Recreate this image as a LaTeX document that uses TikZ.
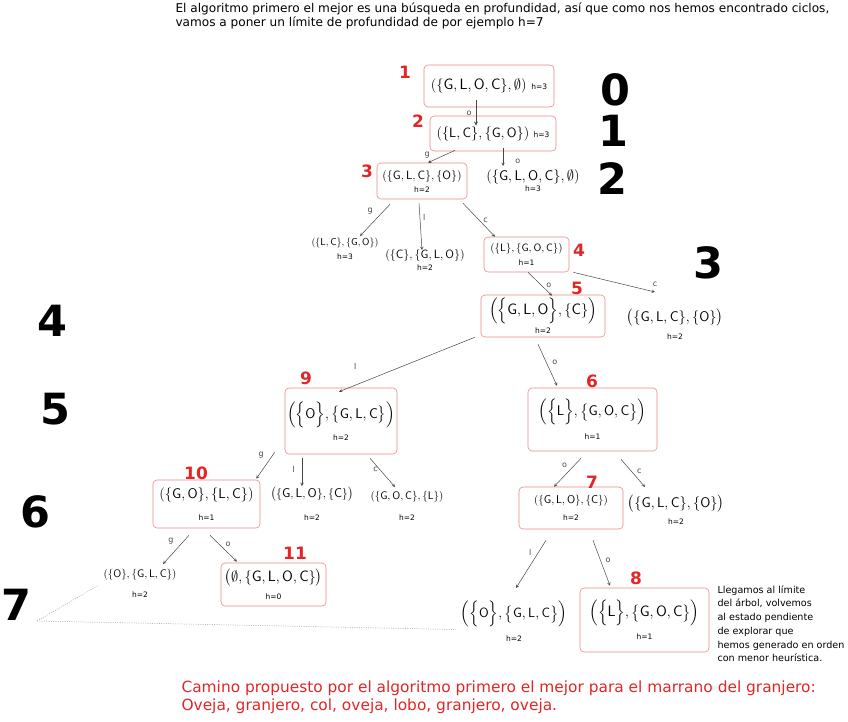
\documentclass[tikz,border=0pt]{standalone}
\usepackage{amsmath}
\usepackage{fontspec}
\setmainfont{DejaVu Sans}
\definecolor{rojo}{RGB}{226,38,38}
\definecolor{rosa}{RGB}{236,135,135}
\definecolor{trazo}{RGB}{70,70,70}
\newcommand{\conj}[1]{\{\mathsf{#1}\}}
\newcommand{\Conj}[1]{\Bigl\{\mathsf{#1}\Bigr\}}
\newcommand{\hh}[1]{{\fontsize{7.5}{8}\selectfont h=#1}}
\tikzset{
    estado/.style={align=center, inner sep=1pt, font=\normalsize},
    letra/.style={font=\fontsize{#1}{#1}\selectfont},
    caja/.style={estado, draw=rosa, rounded corners=4pt, line width=0.6pt},
    paso/.style={text=rojo, font=\fontsize{17}{17}\selectfont\bfseries},
    nivel/.style={font=\fontsize{43}{43}\selectfont\bfseries},
    arista/.style={->, >=stealth, trazo, line width=0.5pt},
    accion/.style={font=\footnotesize, text=trazo, inner sep=1pt},
    limite/.style={gray!75, dash pattern=on 1pt off 1.3pt, line width=0.5pt}
}
\begin{document}
\begin{tikzpicture}[x=1pt, y=-1pt]
    \useasboundingbox (0,0) rectangle (848,721);

    \node[anchor=north west, align=left, font=\fontsize{12.1}{14}\selectfont] (intro) at (172,-0.5)
        {El algoritmo primero el mejor es una búsqueda en profundidad, así que como nos hemos encontrado ciclos,\\
         vamos a poner un límite de profundidad de por ejemplo h=7};

    % niveles del arbol
    \node[nivel] (l0) at (615,90) {0};
    \node[nivel] (l1) at (613,131) {1};
    \node[nivel] (l2) at (612,179) {2};
    \node[nivel] (l3) at (708,263) {3};
    \node[nivel] (l4) at (52,321) {4};
    \node[nivel] (l5) at (55,409) {5};
    \node[nivel] (l6) at (35,512) {6};
    \node[nivel] (l7) at (16,605) {7};

    % estados
    \node[caja, letra=15, minimum width=130pt, minimum height=42pt] (n1) at (489,86)
        {$(\conj{G,L,O,C},\emptyset)$\ \hh{3}};
    \node[caja, letra=13.5, minimum width=126pt, minimum height=35pt] (n2) at (493,133.5)
        {$(\conj{L,C},\conj{G,O})$\ \hh{3}};
    \node[caja, letra=12, minimum width=90pt, minimum height=36pt] (n3) at (422,181)
        {$(\conj{G,L,C},\conj{O})$\\[1pt]\hh{2}};
    \node[estado, letra=14, anchor=north] (n3b) at (533,168)
        {$(\conj{G,L,O,C},\emptyset)$\\[-3pt]\hh{3}};
    \node[estado, letra=10, anchor=north] (n4a) at (345,237)
        {$(\conj{L,C},\conj{G,O})$\\[4pt]\hh{3}};
    \node[estado, letra=12, anchor=north] (n4b) at (425,248)
        {$(\conj{C},\conj{G,L,O})$\\[0pt]\hh{2}};
    \node[caja, letra=10.6, minimum width=85pt, minimum height=35pt] (n4) at (526.5,254.5)
        {$(\conj{L},\conj{G,O,C})$\\[3pt]\hh{1}};
    \node[caja, letra=15, minimum width=124pt, minimum height=42pt] (n5) at (543,316)
        {$\Bigl(\Conj{G,L,O},\conj{C}\Bigr)$\\[3pt]\hh{2}};
    \node[estado, letra=14, anchor=north] (n5b) at (675,308)
        {$\bigl(\conj{G,L,C},\conj{O}\bigr)$\\[4pt]\hh{2}};
    \node[caja, letra=14, minimum width=112pt, minimum height=66pt] (n9) at (341,421)
        {$\Bigl(\Conj{O},\bigl\{\mathsf{G,L,C}\bigr\}\Bigr)$\\[6pt]\hh{2}};
    \node[caja, letra=14, minimum width=129pt, minimum height=63pt] (n6) at (592.5,419.5)
        {$\Bigl(\Conj{L},\bigl\{\mathsf{G,O,C}\bigr\}\Bigr)$\\[8pt]\hh{1}};
    \node[caja, letra=14, minimum width=107pt, minimum height=48pt] (n10) at (206.5,504)
        {$(\conj{G,O},\conj{L,C})$\\[8pt]\hh{1}};
    \node[estado, letra=12.7, anchor=north] (n10b) at (312,486)
        {$\bigl(\conj{G,L,O},\conj{C}\bigr)$\\[10pt]\hh{2}};
    \node[estado, letra=11, anchor=north] (n10c) at (407,490)
        {$(\conj{G,O,C},\conj{L})$\\[10pt]\hh{2}};
    \node[caja, letra=11.3, minimum width=104pt, minimum height=42pt] (n7) at (571,508)
        {$(\conj{G,L,O},\conj{C})$\\[6pt]\hh{2}};
    \node[estado, letra=14, anchor=north] (n7b) at (676,494)
        {$\bigl(\conj{G,L,C},\conj{O}\bigr)$\\[3pt]\hh{2}};
    \node[estado, letra=11, anchor=north] (n11a) at (140,568)
        {$(\conj{O},\conj{G,L,C})$\\[9pt]\hh{2}};
    \node[caja, letra=15, minimum width=105pt, minimum height=43pt] (n11) at (273.5,584.5)
        {$\bigl(\emptyset,\conj{G,L,O,C}\bigr)$\\[3pt]\hh{0}};
    \node[estado, letra=13.4, anchor=north] (n8a) at (514,600)
        {$\Bigl(\Conj{O},\bigl\{\mathsf{G,L,C}\bigr\}\Bigr)$\\[8pt]\hh{2}};
    \node[caja, letra=15, minimum width=129pt, minimum height=64pt] (n8) at (644.5,620)
        {$\Bigl(\Conj{L},\bigl\{\mathsf{G,O,C}\bigr\}\Bigr)$\\[7pt]\hh{1}};

    % orden de expansion
    \node[paso] (p1) at (405,72) {1};
    \node[paso] (p2) at (418,121) {2};
    \node[paso] (p3) at (367,171) {3};
    \node[paso] (p4) at (579,250) {4};
    \node[paso] (p5) at (577,288) {5};
    \node[paso] (p6) at (592,381) {6};
    \node[paso] (p7) at (592,482) {7};
    \node[paso] (p8) at (636,578) {8};
    \node[paso] (p9) at (306,378) {9};
    \node[paso] (p10) at (196,473) {10};
    \node[paso] (p11) at (295,553) {11};

    % transiciones
    \draw[arista, line width=0.9pt] ([xshift=-13pt,yshift=7pt]n1.south) -- ([xshift=-17pt,yshift=-10pt]n2.north)
        node[accion, midway, left=3pt] {o};
    \draw[arista] ([xshift=-38pt,yshift=1pt]n2.south) -- ([xshift=6pt]n3.north)
        node[accion, pos=0.85, above left=1pt] {g};
    \draw[arista] ([xshift=10pt,yshift=3pt]n2.south) -- ([xshift=-30pt,yshift=2pt]n3b.north)
        node[accion, pos=0.75, right=11pt] {o};
    \draw[arista] ([xshift=-32pt,yshift=-5pt]n3.south) -- ([xshift=15pt,yshift=1pt]n4a.north)
        node[accion, pos=0.2, left=10pt] {g};
    \draw[arista] ([xshift=-3pt,yshift=-4pt]n3.south) -- ([xshift=-3pt,yshift=-2pt]n4b.north)
        node[accion, pos=0.3, right=2pt] {l};
    \draw[arista] ([xshift=41pt,yshift=-4pt]n3.south) -- ([xshift=-31.5pt]n4.north)
        node[accion, midway, right=3pt] {c};
    \draw[arista] ([xshift=1.5pt]n4.south) -- ([xshift=9pt,yshift=-1pt]n5.north)
        node[accion, pos=0.55, right=4pt] {o};
    \draw[arista] ([xshift=4pt]n4.south east) -- ([xshift=-20pt,yshift=16pt]n5b.north)
        node[accion, pos=1, above=4pt] {c};
    \draw[arista] ([xshift=-6pt]n5.south west) -- ([xshift=-2pt,yshift=-4pt]n9.north)
        node[accion, pos=0.88, above=14pt] {l};
    \draw[arista] ([xshift=-5pt,yshift=-7pt]n5.south) -- ([xshift=-35.5pt,yshift=2pt]n6.north)
        node[accion, pos=0.43, right=5pt] {o};
    \draw[arista] ([xshift=-10pt,yshift=2pt]n9.south west) -- ([xshift=-4pt,yshift=1pt]n10.north east)
        node[accion, pos=0.1, left=8pt] {g};
    \draw[arista] ([xshift=-39pt,yshift=-4pt]n9.south) -- ([xshift=-10pt]n10b.north)
        node[accion, pos=0.4, left=6pt] {l};
    \draw[arista] ([xshift=29pt,yshift=-4pt]n9.south) -- ([xshift=-12pt,yshift=3pt]n10c.north)
        node[accion, pos=0.4, left=1pt] {c};
    \draw[arista] ([xshift=-11.5pt,yshift=-7pt]n6.south) -- ([xshift=-17pt]n7.north)
        node[accion, pos=0.25, left=6pt] {o};
    \draw[arista] ([xshift=28.5pt,yshift=-8pt]n6.south) -- ([xshift=-31pt,yshift=7pt]n7b.north)
        node[accion, pos=0.45, right=4pt] {c};
    \draw[arista] ([xshift=-17.5pt,yshift=-7pt]n10.south) -- ([xshift=23pt,yshift=4pt]n11a.north)
        node[accion, pos=0.2, left=9pt] {g};
    \draw[arista] ([xshift=3.5pt,yshift=-7pt]n10.south) -- ([xshift=-36.5pt,yshift=1pt]n11.north)
        node[accion, pos=0.35, right=5pt] {o};
    \draw[arista] ([xshift=-25pt,yshift=-11pt]n7.south) -- ([xshift=2pt,yshift=12pt]n8a.north)
        node[accion, pos=0.25, left=6pt] {l};
    \draw[arista] ([xshift=22pt,yshift=-11pt]n7.south) -- ([xshift=-34.5pt,yshift=2pt]n8.north)
        node[accion, pos=0.43, right=4pt] {o};

    % limite de profundidad
    \coordinate (lim) at (37,621);
    \draw[limite] (lim) -- ([xshift=-4pt,yshift=-2pt]n11a.west);
    \draw[limite] (lim) -- ([xshift=-4pt,yshift=-8pt]n8a.west);

    \node[anchor=north west, align=left, font=\fontsize{9.6}{13.7}\selectfont] (nota) at (714,582)
        {Llegamos al límite\\del árbol, volvemos\\al estado pendiente\\de explorar que\\hemos generado en orden\\con menor heurística.};

    \node[anchor=north west, align=left, text=rojo, font=\fontsize{15.4}{18}\selectfont] (camino) at (178,677)
        {Camino propuesto por el algoritmo primero el mejor para el marrano del granjero:\\
         Oveja, granjero, col, oveja, lobo, granjero, oveja.};
\end{tikzpicture}
\end{document}
